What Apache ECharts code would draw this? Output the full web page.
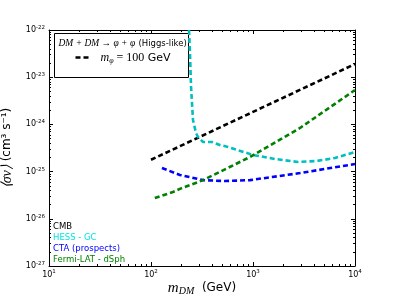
<!DOCTYPE html>
<html><head><meta charset="utf-8">
<script src="https://cdn.jsdelivr.net/npm/echarts@6/dist/echarts.min.js"></script>
<style>html,body{margin:0;padding:0;background:#fff}#c{width:395px;height:296px}</style>
</head><body><div id="c"></div>
<script>
// Data (m_DM in GeV, <sigma v> in cm^3 s^-1)
const cmbM = [100, 1000, 10000];
const cmbS = [1.78e-25, 1.84e-24, 1.9e-23];
const hessM = [236, 241, 247, 258, 276, 289, 324, 396, 474, 569, 1000, 1644, 2761, 4236, 6368, 10000];
const hessS = [1e-22, 3.26e-23, 6.2e-24, 1.24e-24, 6.58e-25, 5.4e-25, 4.24e-25, 4.24e-25, 3.66e-25, 3.32e-25, 2.25e-25, 1.85e-25, 1.6e-25, 1.68e-25, 1.94e-25, 2.6e-25];
const ctaM = [128, 192, 324, 531, 935, 2890, 10000];
const ctaS = [1.19e-25, 8.5e-26, 6.6e-26, 6.3e-26, 6.6e-26, 9.3e-26, 1.45e-25];
const fermiM = [109, 164, 192, 324, 935, 2890, 10000];
const fermiS = [2.76e-26, 3.7e-26, 4.3e-26, 6.6e-26, 2.04e-25, 8.4e-25, 5.36e-24];
const seriesNames = ['CMB', 'HESS - GC', 'CTA (prospects)', 'Fermi-LAT - dSph'];
const lineColors = ['#000000', '#00bfbf', '#0000ff', '#008000'];
const textColors = ['#000000', '#00e5e5', '#0000ff', '#008000'];
const yMinExp = -27, yMaxExp = -22;

// ECharts rounds to 20 decimals, so work in units of 10^yMinExp for the y scale
const unit = Math.pow(10, yMinExp);
const zip = (a, b) => a.map((v, i) => [v, b[i] / unit]);
const fmtX = v => '{b|10}{s|' + Math.round(Math.log10(v)) + '}';
const fmtY = v => '{b|10}{s|' + (Math.round(Math.log10(v)) + yMinExp) + '}';
const rich = { b: { fontSize: 8, fontFamily: 'DejaVu Sans', color: '#000' }, s: { fontSize: 5.5, fontFamily: 'DejaVu Sans', color: '#000', padding: [0, 0, 5, 0] } };

function xAx(pos, show) {
  return {
    type: 'log', logBase: 10, min: 10, max: 10000, position: pos,
    axisLine: { show: true, onZero: false, lineStyle: { color: '#000', width: 1 } },
    axisTick: { show: true, inside: true, length: 4, lineStyle: { color: '#000' } },
    minorTick: { show: true, splitNumber: 9, length: 2, lineStyle: { color: '#000' } },
    splitLine: { show: false },
    axisLabel: { show: show, formatter: fmtX, rich: rich, margin: 3 },
    name: show ? '{m|m}{d|DM}{n|  (GeV)}' : '', nameLocation: 'middle', nameGap: 14, nameMoveOverlap: false,
    nameTextStyle: { rich: { m: { fontFamily: 'Liberation Serif', fontStyle: 'italic', fontSize: 15, color: '#000' }, d: { fontFamily: 'Liberation Serif', fontStyle: 'italic', fontSize: 10, color: '#000', padding: [6, 0, 0, 0] }, n: { fontFamily: 'DejaVu Sans', fontSize: 12, color: '#000' } } }
  };
}
function yAx(pos, show) {
  return {
    type: 'log', logBase: 10, min: 1, max: Math.pow(10, yMaxExp - yMinExp), position: pos,
    axisLine: { show: true, onZero: false, lineStyle: { color: '#000', width: 1 } },
    axisTick: { show: true, inside: true, length: 4, lineStyle: { color: '#000' } },
    minorTick: { show: true, splitNumber: 9, length: 2, lineStyle: { color: '#000' } },
    splitLine: { show: false },
    axisLabel: { show: show, formatter: fmtY, rich: rich, margin: 4 },
    name: show ? '{i|⟨σv⟩}{n| (cm³ s⁻¹)}' : '', nameLocation: 'middle', nameGap: 35, nameMoveOverlap: false,
    nameTextStyle: { rich: { i: { fontFamily: 'Liberation Serif', fontStyle: 'italic', fontSize: 14, color: '#000' }, n: { fontFamily: 'DejaVu Sans', fontSize: 12, color: '#000' } } }
  };
}

const datas = [zip(cmbM, cmbS), zip(hessM, hessS), zip(ctaM, ctaS), zip(fermiM, fermiS)];
const chart = echarts.init(document.getElementById('c'), null, { renderer: 'canvas' });
chart.setOption({
  animation: false,
  grid: { left: 49, right: 40, top: 30, bottom: 30, containLabel: false, outerBoundsMode: 'none' },
  xAxis: [xAx('bottom', true), xAx('top', false)],
  yAxis: [yAx('left', true), yAx('right', false)],
  legend: {
    orient: 'vertical', left: 48, top: 222, itemGap: 2, itemWidth: 0, itemHeight: 0, icon: 'none',
    padding: 0,
    data: seriesNames.map((n, i) => ({ name: n, textStyle: { color: textColors[i], fontSize: 8.5, lineHeight: 9, fontFamily: 'DejaVu Sans' } }))
  },
  series: seriesNames.map((n, i) => ({
    name: n, type: 'line', data: datas[i], symbol: 'none', smooth: false,
    xAxisIndex: 0, yAxisIndex: 0,
    lineStyle: { color: lineColors[i], width: 2.6, type: [5, 3] }, itemStyle: { color: lineColors[i] }
  })),
  graphic: [{
    type: 'group', left: 54, top: 33,
    children: [
      { type: 'rect', shape: { x: 0, y: 0, width: 134, height: 44 }, style: { fill: '#fff', stroke: '#000', lineWidth: 1 } },
      { type: 'text', x: 4, y: 4, style: { text: '{i|DM + DM → φ + φ} {n|(Higgs-like)}', rich: { i: { fontFamily: 'Liberation Serif', fontStyle: 'italic', fontSize: 9.5, fill: '#000' }, n: { fontFamily: 'DejaVu Sans', fontSize: 8.5, fill: '#000' } } } },
      { type: 'line', shape: { x1: 21, y1: 24, x2: 37, y2: 24 }, style: { stroke: '#000', lineWidth: 2.6, lineDash: [5, 3] } },
      { type: 'text', x: 46, y: 18, style: { text: '{i|m}{s|φ}{e| = 100} {n|GeV}', rich: { i: { fontFamily: 'Liberation Serif', fontStyle: 'italic', fontSize: 12, fill: '#000' }, s: { fontFamily: 'Liberation Serif', fontStyle: 'italic', fontSize: 8, fill: '#000', padding: [5, 0, 0, 0] }, e: { fontFamily: 'Liberation Serif', fontSize: 12, fill: '#000' }, n: { fontFamily: 'DejaVu Sans', fontSize: 11, fill: '#000' } } } }
    ]
  }]
});
</script></body></html>
